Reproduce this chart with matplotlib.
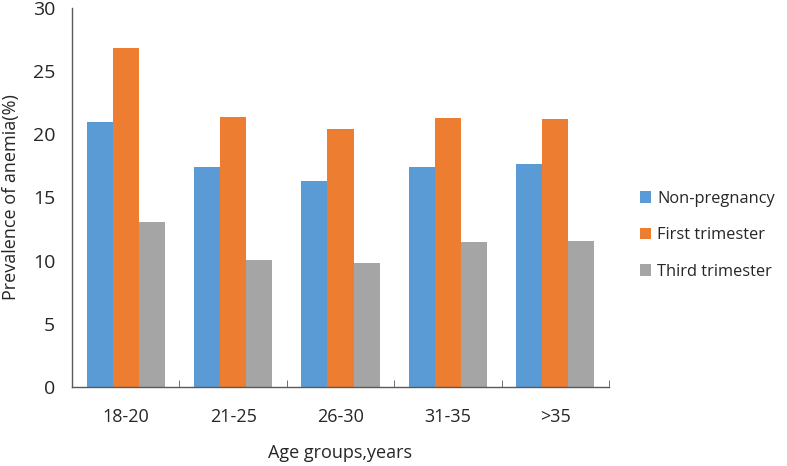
import numpy as np
import matplotlib.pyplot as plt

# values
groups = ['18-20', '21-25', '26-30', '31-35', '>35']
non_pregnancy = [21.0, 17.4, 16.3, 17.4, 17.65]
first_trimester = [26.85, 21.35, 20.4, 21.3, 21.2]
third_trimester = [13.1, 10.05, 9.8, 11.45, 11.55]

series = [
    ('Non-pregnancy', non_pregnancy, '#5B9BD5'),
    ('First trimester', first_trimester, '#ED7D31'),
    ('Third trimester', third_trimester, '#A5A5A5'),
]

plt.rcParams['font.family'] = ['Open Sans', 'DejaVu Sans']

fig = plt.figure(figsize=(7.87, 4.66), dpi=100)
ax = fig.add_axes([72 / 787, 1 - 387 / 466, (609 - 72) / 787, (387 - 8) / 466])

x = np.arange(len(groups))
w = 0.243
for i, (name, vals, col) in enumerate(series):
    ax.bar(x + (i - 1) * w, vals, w, color=col, label=name)

ax.set_xlim(-0.5, len(groups) - 0.5)
ax.set_ylim(0, 30)
ax.set_yticks(range(0, 31, 5))
ax.set_xticks(x)
ax.set_xticklabels(groups)
ax.set_xticks(np.arange(-0.5, len(groups), 1), minor=True)

for s in ['top', 'right']:
    ax.spines[s].set_visible(False)
for s in ['left', 'bottom']:
    ax.spines[s].set_color('#595959')
    ax.spines[s].set_linewidth(1.0)

ax.tick_params(axis='x', which='major', length=0, pad=15, labelsize=13, colors='#262626')
ax.tick_params(axis='x', which='minor', direction='in', length=5, color='#595959')
ax.tick_params(axis='y', length=0, pad=12, labelsize=14, colors='#262626')

ax.set_ylabel('Prevalence of anemia(%)', fontsize=13, color='#262626', labelpad=9)
ax.set_xlabel('Age groups,years', fontsize=13, color='#262626', labelpad=13)

ax.legend(loc='center left', bbox_to_anchor=(1.03, 0.40), frameon=False,
          fontsize=11.8, handlelength=0.7, handleheight=0.7, handletextpad=0.35,
          labelspacing=1.25, labelcolor='#262626')

fig.savefig('out.png', dpi=100)
